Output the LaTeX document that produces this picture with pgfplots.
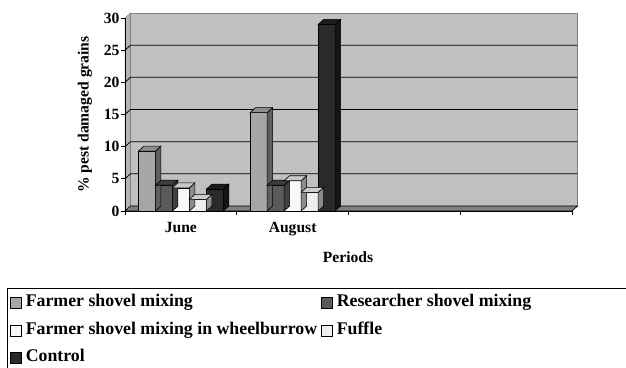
\documentclass[border=0pt]{standalone}
\usepackage{pgfplots}
\pgfplotsset{compat=1.18}
\usepackage{pgfplotstable}
\usepackage{fontspec}
\setmainfont{Liberation Serif}
\newcommand\lbl{\fontsize{15.6}{17}\selectfont\bfseries}
\newcommand\leg{\fontsize{17.8}{19}\selectfont\bfseries}

% faces of the columns: front / top / side
\definecolor{farmF}{HTML}{A6A6A6}\definecolor{farmT}{HTML}{8C8C8C}\definecolor{farmS}{HTML}{5E5E5E}
\definecolor{resF}{HTML}{5A5A5A}\definecolor{resT}{HTML}{3C3C3C}\definecolor{resS}{HTML}{404040}
\definecolor{wheF}{HTML}{F8F8F8}\definecolor{wheT}{HTML}{C8C8C8}\definecolor{wheS}{HTML}{8C8C8C}
\definecolor{fufF}{HTML}{EEEEEE}\definecolor{fufT}{HTML}{CCCCCC}\definecolor{fufS}{HTML}{8C8C8C}
\definecolor{conF}{HTML}{2A2A2A}\definecolor{conT}{HTML}{1C1C1C}\definecolor{conS}{HTML}{151515}
\definecolor{wall}{HTML}{C0C0C0}\definecolor{sidewall}{HTML}{B4B4B4}\definecolor{floor}{HTML}{808080}

\pgfplotstableread{
x   farmer researcher wheel fuffle control
0.5 9.3    4.0        3.6   1.8    3.4
1.5 15.3   4.0        4.7   2.9    29.0
}\damage

% top and side faces of a column; the mark sits at the top centre of the front face,
% \barval is the column's value (1 unit = 6.4333pt)
\newcommand\defcube[3]{%
  \pgfdeclareplotmark{#1}{%
    \pgfmathsetmacro\cubeH{\barval*6.4333}%
    \pgfsetstrokecolor{black}%
    \pgfpathmoveto{\pgfpoint{8.5pt}{0pt}}%
    \pgfpathlineto{\pgfpoint{14pt}{5pt}}%
    \pgfpathlineto{\pgfpoint{14pt}{5pt-\cubeH pt}}%
    \pgfpathlineto{\pgfpoint{8.5pt}{-\cubeH pt}}%
    \pgfpathclose
    \pgfsetfillcolor{#3}%
    \pgfusepath{fill,stroke}%
    \pgfpathmoveto{\pgfpoint{-8.5pt}{0pt}}%
    \pgfpathlineto{\pgfpoint{8.5pt}{0pt}}%
    \pgfpathlineto{\pgfpoint{14pt}{5pt}}%
    \pgfpathlineto{\pgfpoint{-3pt}{5pt}}%
    \pgfpathclose
    \pgfsetfillcolor{#2}%
    \pgfusepath{fill,stroke}%
  }}
\defcube{cubefarm}{farmT}{farmS}
\defcube{cuberes}{resT}{resS}
\defcube{cubewhe}{wheT}{wheS}
\defcube{cubefuf}{fufT}{fufS}
\defcube{cubecon}{conT}{conS}

\pgfplotsset{
  front/.style={ybar, bar width=0.15213, draw=black, line width=0.6pt,
    legend image code/.code={\draw[##1, line width=0.6pt] (0pt,-5.5pt) rectangle (11pt,5.5pt);}},
  faces/.style={forget plot, scatter, only marks, line width=0.6pt,
    scatter/use mapped color={draw=black},
    visualization depends on={rawy \as \barval}},
}

\begin{document}
\begin{tikzpicture}
\useasboundingbox (0,0) rectangle (626pt,367pt);
\begin{axis}[
  at={(125pt,156pt)}, anchor=south west,
  x=111.75pt, y=6.4333pt,
  xmin=0, xmax=4, ymin=0, ymax=30,
  clip=false, axis on top,
  axis x line*=bottom, axis y line*=left,
  axis line style={line width=0.8pt, -},
  tick align=outside, major tick length=4pt,
  tick style={line width=0.8pt, black},
  ytick={0,5,...,30},
  xtick={0,1,2,3,4}, xticklabels={},
  extra x ticks={0.5,1.5}, extra x tick labels={June,August},
  extra x tick style={major tick length=0pt, tick style={draw=none}},
  /pgf/number format/assume math mode=true,
  ticklabel style={font=\lbl},
  every x tick label/.append style={yshift=-8pt},
  yticklabel style={xshift=2pt},
  xlabel={Periods}, ylabel={\% pest damaged grains},
  every axis x label/.style={at={(axis description cs:0.499,-0.238)}, anchor=center, font=\lbl},
  every axis y label/.style={at={(axis description cs:-0.0895,0.5)}, rotate=90, anchor=center, font=\lbl},
  legend columns=2,
  legend cell align=left,
  legend style={at={(axis description cs:-0.2573,-0.4339)}, anchor=north west,
    draw=none, fill=none, inner sep=0pt, font=\leg,
    column sep=4pt, row sep=11pt,
    nodes={inner sep=0pt, text height=12pt, text depth=4.5pt}},
]
% walls and floor
\filldraw[fill=sidewall, draw=gray] (axis cs:0,0) -- (axis cs:0.0492,0.7776) -- (axis cs:0.0492,30.7776) -- (axis cs:0,30) -- cycle;
\filldraw[fill=wall, draw=gray] (axis cs:0.0492,0.7776) rectangle (axis cs:4.0492,30.7776);
\draw[line width=0.8pt] (axis cs:0,5) -- (axis cs:0.0492,5.7776) -- (axis cs:4.0492,5.7776);
\draw[line width=0.8pt] (axis cs:0,10) -- (axis cs:0.0492,10.7776) -- (axis cs:4.0492,10.7776);
\draw[line width=0.8pt] (axis cs:0,15) -- (axis cs:0.0492,15.7776) -- (axis cs:4.0492,15.7776);
\draw[line width=0.8pt] (axis cs:0,20) -- (axis cs:0.0492,20.7776) -- (axis cs:4.0492,20.7776);
\draw[line width=0.8pt] (axis cs:0,25) -- (axis cs:0.0492,25.7776) -- (axis cs:4.0492,25.7776);
\filldraw[fill=floor, draw=black, line width=0.6pt] (axis cs:0,0) -- (axis cs:4,0) -- (axis cs:4.0492,0.7776) -- (axis cs:0.0492,0.7776) -- cycle;

% columns
\addplot[front, fill=farmF, bar shift=-0.30426] table[x=x, y=farmer] {\damage};
\addlegendentry{Farmer shovel mixing}
\addplot[faces, mark=cubefarm] table[x expr=\thisrow{x}-0.30426, y=farmer] {\damage};

\addplot[front, fill=resF, bar shift=-0.15213] table[x=x, y=researcher] {\damage};
\addlegendentry{Researcher shovel mixing}
\addplot[faces, mark=cuberes] table[x expr=\thisrow{x}-0.15213, y=researcher] {\damage};

\addplot[front, fill=wheF, bar shift=0] table[x=x, y=wheel] {\damage};
\addlegendentry{Farmer shovel mixing in wheelburrow}
\addplot[faces, mark=cubewhe] table[x=x, y=wheel] {\damage};

\addplot[front, fill=fufF, bar shift=0.15213] table[x=x, y=fuffle] {\damage};
\addlegendentry{Fuffle}
\addplot[faces, mark=cubefuf] table[x expr=\thisrow{x}+0.15213, y=fuffle] {\damage};

\addplot[front, fill=conF, bar shift=0.30426] table[x=x, y=control] {\damage};
\addlegendentry{Control}
\addplot[faces, mark=cubecon] table[x expr=\thisrow{x}+0.30426, y=control] {\damage};
\end{axis}
% legend frame, running off the page on the right and below
\draw[line width=0.8pt] (7pt,-20pt) -- (7pt,79pt) -- (660pt,79pt);
\end{tikzpicture}
\end{document}
